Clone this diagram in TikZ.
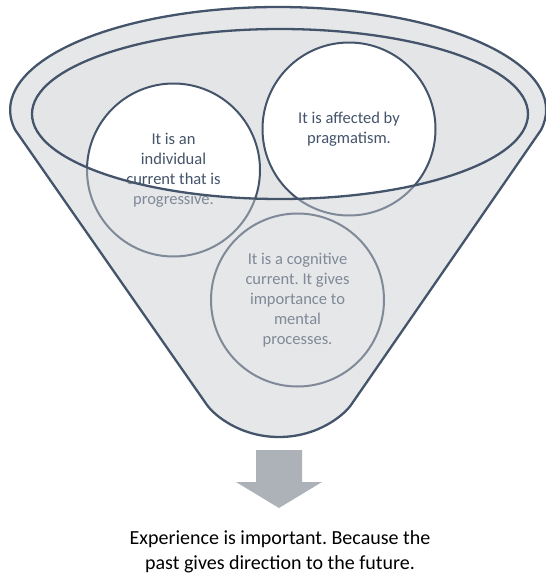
\documentclass[tikz,border=0pt]{standalone}
\usepackage{fontspec}
\setmainfont{Carlito}
\frenchspacing
\definecolor{slate}{HTML}{44546A}
\definecolor{funnelback}{HTML}{E4E5E7}
\definecolor{funnelfront}{HTML}{C8CACF}
\definecolor{arrowgrey}{HTML}{ADB1B8}

\begin{document}
\begin{tikzpicture}[x=1pt, y=-1pt,
    idea/.style={circle, draw=slate, line width=2pt, fill=white, minimum size=173pt,
      inner sep=0pt, align=center, text=slate, font=\fontsize{16.5}{20}\selectfont},
    rim/.style={draw=slate, line width=2.3pt}]
    \useasboundingbox (0,0) rectangle (546,584);
    \fill[funnelback] (280,114) ellipse [x radius=248, y radius=85];
    \node[idea] (individual) at (173.5,170) {It is an\\individual\\current that is\\progressive.};
    \node[idea] (pragmatism) at (349,129) {It is affected by\\pragmatism.};
    \node[idea] (cognitive) at (297.5,300) {It is a cognitive\\current. It gives\\importance to\\mental\\processes.};
    \fill[funnelfront, fill opacity=0.45, even odd rule]
      (541,130) arc[start angle=11.2, end angle=-191.2, x radius=268, y radius=103]
      -- (207,405) .. controls (214,415) and (240,437) .. (279,437)
      .. controls (318,437) and (344,415) .. (351,405) -- cycle
      (280,114) ellipse [x radius=248, y radius=85];
    \draw[rim, line join=round]
      (541,130) arc[start angle=11.2, end angle=-191.2, x radius=268, y radius=103]
      -- (207,405) .. controls (214,415) and (240,437) .. (279,437)
      .. controls (318,437) and (344,415) .. (351,405) -- cycle;
    \draw[rim] (280,114) ellipse [x radius=248, y radius=85];
    \fill[arrowgrey] (256,450) -- (302,450) -- (302,482) -- (322,482) -- (279,508)
      -- (236,482) -- (256,482) -- cycle;
    \node[align=center, font=\fontsize{20}{25}\selectfont] (result) at (280,552)
      {Experience is important. Because the\\past gives direction to the future.};
\end{tikzpicture}
\end{document}
